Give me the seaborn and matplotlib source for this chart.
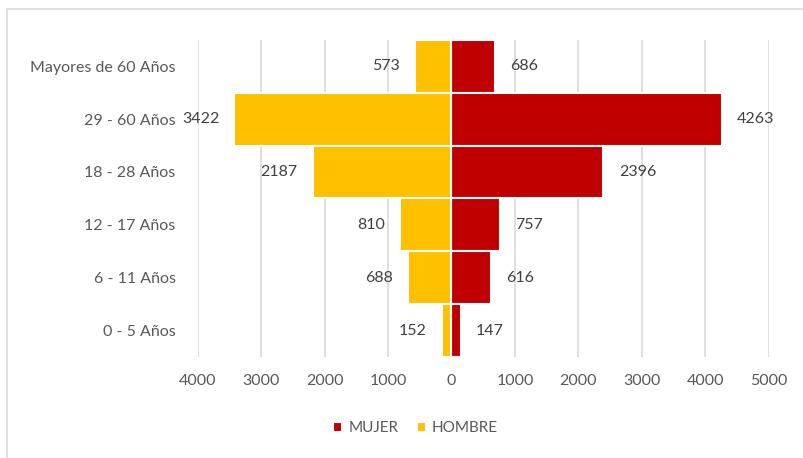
import pandas as pd
import numpy as np
import matplotlib.pyplot as plt
import seaborn as sns
from matplotlib.patches import Rectangle

grupos = ["Mayores de 60 Años", "29 - 60 Años", "18 - 28 Años",
          "12 - 17 Años", "6 - 11 Años", "0 - 5 Años"]
mujer = [686, 4263, 2396, 757, 616, 147]
hombre = [573, 3422, 2187, 810, 688, 152]
xticks = [-4000, -3000, -2000, -1000, 0, 1000, 2000, 3000, 4000, 5000]

COLORS = {"MUJER": "#C00000", "HOMBRE": "#FFC000"}
GRID = "#D9D9D9"
TEXT = "#595959"

df = pd.DataFrame({
    "grupo": grupos * 2,
    "valor": mujer + [-v for v in hombre],
    "sexo": ["MUJER"] * len(grupos) + ["HOMBRE"] * len(grupos),
})

sns.set_style("white")
plt.rcParams["font.family"] = ["Lato", "DejaVu Sans"]

fig = plt.figure(figsize=(8.04, 4.58), dpi=100)
ax = fig.add_axes([0.246, 0.2205, 0.710, 0.6925])

sns.barplot(data=df, y="grupo", x="valor", hue="sexo", order=grupos,
            hue_order=["MUJER", "HOMBRE"], palette=COLORS, dodge=False,
            saturation=1, width=1.0, orient="h", edgecolor="white",
            linewidth=1.5, ax=ax)

ax.set_xlim(-4000, 5000)
ax.set_xticks(xticks)
ax.set_xticklabels([str(abs(t)) for t in xticks])
ax.xaxis.grid(True, color=GRID, lw=1.2)
ax.yaxis.grid(False)
ax.set_axisbelow(True)
for s in ax.spines.values():
    s.set_visible(False)
ax.set_xlabel("")
ax.set_ylabel("")
ax.tick_params(axis="both", length=0, labelsize=11.5, labelcolor=TEXT)
ax.tick_params(axis="x", pad=12)
ax.tick_params(axis="y", pad=16)

for cont, vals in zip(ax.containers, [mujer, hombre]):
    ax.bar_label(cont, labels=[str(v) for v in vals], padding=11,
                 fontsize=11.5, color="#404040")

ax.legend_.remove()
handles, labels = ax.get_legend_handles_labels()
fig.legend(handles, labels, loc="center", bbox_to_anchor=(0.517, 0.065),
           ncol=2, frameon=False, fontsize=11, labelcolor=TEXT,
           handlelength=0.6, handleheight=0.6, handletextpad=0.4,
           columnspacing=1.2)

fig.add_artist(Rectangle((0.009, -0.1), 1.2, 1.08, transform=fig.transFigure,
                         fill=False, edgecolor=GRID, lw=1.2))

plt.savefig("out.png", dpi=100)
